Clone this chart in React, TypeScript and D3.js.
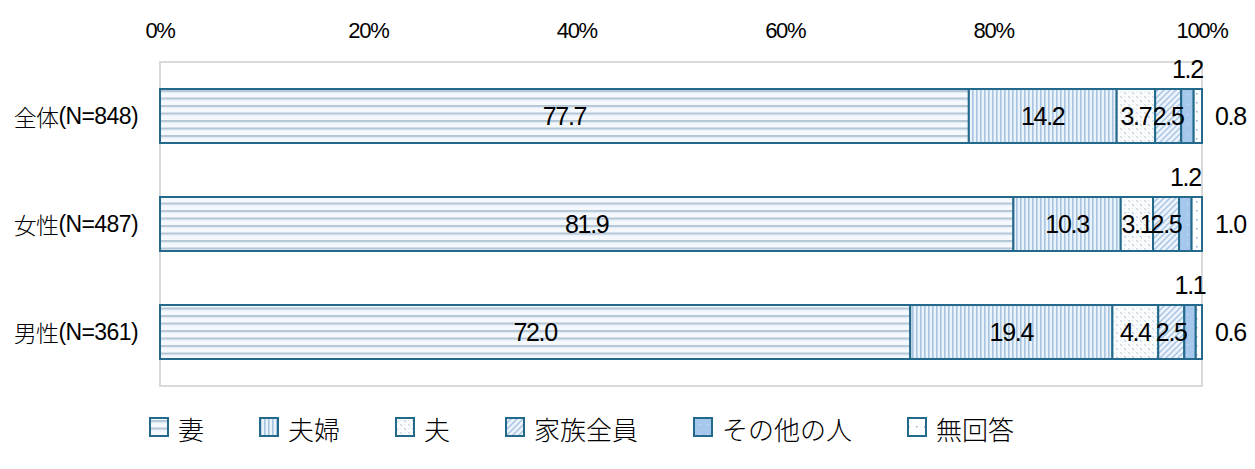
import React from "react";
import * as d3 from "d3";

const categories = ["全体(N=848)", "女性(N=487)", "男性(N=361)"];
const seriesNames = ["妻", "夫婦", "夫", "家族全員", "その他の人", "無回答"];
const wife = [77.7, 81.9, 72.0];
const couple = [14.2, 10.3, 19.4];
const husband = [3.7, 3.1, 4.4];
const family = [2.5, 2.5, 2.5];
const others = [1.2, 1.2, 1.1];
const noAnswer = [0.8, 1.0, 0.6];
const tickValues = [0, 20, 40, 60, 80, 100];

const seriesValues = [wife, couple, husband, family, others, noAnswer];

const W = 1255;
const H = 469;
const M = { left: 160, right: 1202, top: 62, bottom: 386 };
const OUTLINE = "#22698b";
const FRAME = "#d9d9d9";
const NUM_FONT = "'Liberation Sans', Arial, 'Noto Sans CJK JP', sans-serif";
const CJK_FONT = "'Noto Sans CJK JP', 'Liberation Sans', sans-serif";

type Row = { [k: string]: number | string };

export default function App() {
  const rows: Row[] = categories.map((c, i) => {
    const r: Row = { cat: c };
    seriesNames.forEach((s, j) => (r[s] = seriesValues[j][i]));
    return r;
  });

  const stack = d3
    .stack<Row>()
    .keys(seriesNames)
    .value((d, k) => d[k] as number)
    .offset(d3.stackOffsetExpand);
  const stacked = stack(rows);

  const x = d3.scaleLinear().domain([0, 1]).range([M.left, M.right]);
  const y = d3
    .scaleBand<string>()
    .domain(categories)
    .range([M.top, M.bottom])
    .paddingInner(0.5)
    .paddingOuter(0.25);

  const patternIds = ["p-wife", "p-couple", "p-husband", "p-family", "p-others", "p-none"];

  const legendFont = 26;
  const sq = 20;
  const sqGap = 9;
  const itemGap = 55;
  const legendY = 428;
  let lx = 149;
  const legendItems = seriesNames.map((s, i) => {
    const item = { name: s, x: lx, id: patternIds[i] };
    lx += sq + sqGap + s.length * legendFont + itemGap;
    return item;
  });

  return (
    <svg
      width={W}
      height={H}
      style={{ position: "absolute", left: 0, top: 0, background: "#fff" }}
    >
      <defs>
        <pattern id="p-wife" patternUnits="userSpaceOnUse" width={8} height={7.5}>
          <rect width={8} height={7.5} fill="#f5f9fd" />
          <rect y={0} width={8} height={2} fill="#b5c7d6" />
          <rect y={2} width={8} height={1} fill="#dce8f4" />
        </pattern>
        <pattern id="p-couple" patternUnits="userSpaceOnUse" width={4} height={8}>
          <rect width={4} height={8} fill="#eaf2fa" />
          <rect x={0} width={1.6} height={8} fill="#a7c4e2" />
        </pattern>
        <pattern id="p-husband" patternUnits="userSpaceOnUse" width={8} height={8}>
          <rect width={8} height={8} fill="#fbfcfe" />
          <path d="M0,0 L2,2 M4,4 L6,6" stroke="#c9d5e0" strokeWidth={1.2} />
          <path d="M4,0 L5,1 M0,4 L1,5" stroke="#d8e1ea" strokeWidth={1} />
        </pattern>
        <pattern id="p-family" patternUnits="userSpaceOnUse" width={6} height={6}>
          <rect width={6} height={6} fill="#eef4fb" />
          <path d="M-1,7 L7,-1 M-1,1 L1,-1 M5,7 L7,5" stroke="#a9c5e3" strokeWidth={1.5} />
        </pattern>
        <pattern id="p-others" patternUnits="userSpaceOnUse" width={8} height={10}>
          <rect width={8} height={10} fill="#a6c8ec" />
          <rect x={3} y={4} width={1} height={1} fill="#dbe9f7" />
        </pattern>
        <pattern id="p-none" patternUnits="userSpaceOnUse" width={8} height={9}>
          <rect width={8} height={9} fill="#ffffff" />
          <rect x={4} y={3} width={1.5} height={1.5} fill="#8aaecf" />
        </pattern>
      </defs>

      {/* plot frame */}
      <rect
        x={M.left}
        y={M.top}
        width={M.right - M.left}
        height={M.bottom - M.top}
        fill="none"
        stroke={FRAME}
        strokeWidth={2}
      />

      {/* top tick labels */}
      {tickValues.map((t) => (
        <text
          key={t}
          x={x(t / 100)}
          y={30}
          textAnchor="middle"
          dominantBaseline="central"
          fontFamily={NUM_FONT}
          fontSize={22}
          letterSpacing={-1.3}
          fill="#000"
        >
          {t}%
        </text>
      ))}

      {/* category labels */}
      {categories.map((c) => {
        const k = c.indexOf("(");
        return (
          <text
            key={c}
            x={138}
            y={(y(c) as number) + y.bandwidth() / 2}
            textAnchor="end"
            dominantBaseline="central"
            fontFamily={NUM_FONT}
            fontSize={23}
            letterSpacing={-0.6}
            fill="#000"
          >
            <tspan fontFamily={CJK_FONT} fontWeight={300}>
              {c.slice(0, k)}
            </tspan>
            <tspan>{c.slice(k)}</tspan>
          </text>
        );
      })}

      {/* bars */}
      {stacked.map((layer, si) =>
        layer.map((seg, ci) => (
          <rect
            key={`${si}-${ci}`}
            x={x(seg[0])}
            y={y(categories[ci])}
            width={x(seg[1]) - x(seg[0])}
            height={y.bandwidth()}
            fill={`url(#${patternIds[si]})`}
            stroke={OUTLINE}
            strokeWidth={2}
          />
        ))
      )}

      {/* value labels */}
      {stacked.map((layer, si) =>
        layer.map((seg, ci) => {
          const v = seriesValues[si][ci];
          const top = y(categories[ci]) as number;
          const mid = top + y.bandwidth() / 2;
          let lxp = (x(seg[0]) + x(seg[1])) / 2;
          let lyp = mid;
          let anchor: "middle" | "start" = "middle";
          if (si === 4) {
            lyp = top - 20;
          } else if (si === 5) {
            lxp = M.right + 13;
            anchor = "start";
          }
          return (
            <text
              key={`l-${si}-${ci}`}
              x={lxp}
              y={lyp}
              textAnchor={anchor}
              dominantBaseline="central"
              fontFamily={NUM_FONT}
              fontSize={25}
              letterSpacing={-1.3}
              fill="#000"
            >
              {v.toFixed(1)}
            </text>
          );
        })
      )}

      {/* legend */}
      {legendItems.map((it) => (
        <g key={it.name}>
          <rect
            x={it.x + 1}
            y={legendY - sq / 2}
            width={sq - 2}
            height={sq - 2}
            fill={`url(#${it.id})`}
            stroke={OUTLINE}
            strokeWidth={2}
          />
          <text
            x={it.x + sq + sqGap}
            y={legendY}
            dominantBaseline="central"
            fontFamily={CJK_FONT}
            fontWeight={300}
            fontSize={legendFont}
            fill="#000"
          >
            {it.name}
          </text>
        </g>
      ))}
    </svg>
  );
}
